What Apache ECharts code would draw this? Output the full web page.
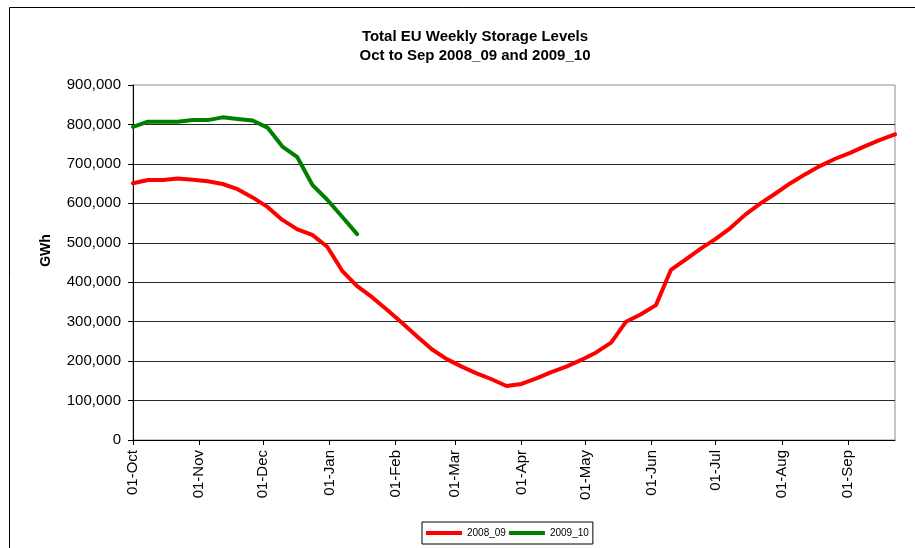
<!DOCTYPE html>
<html>
<head>
<meta charset="utf-8">
<title>Total EU Weekly Storage Levels</title>
<script src="https://cdn.jsdelivr.net/npm/echarts@6/dist/echarts.min.js"></script>
<style>
  html, body { margin: 0; padding: 0; background: #fff; }
  #chart { width: 915px; height: 548px; }
</style>
</head>
<body>
<div id="chart"></div>
<script>
// weekly dates (season Oct to Sep)
var weeks = [
    '2008-10-01', '2008-10-08', '2008-10-15', '2008-10-22', '2008-10-29',
    '2008-11-05', '2008-11-12', '2008-11-19', '2008-11-26',
    '2008-12-03', '2008-12-10', '2008-12-17', '2008-12-24', '2008-12-31',
    '2009-01-07', '2009-01-14', '2009-01-21', '2009-01-28',
    '2009-02-04', '2009-02-11', '2009-02-18', '2009-02-25',
    '2009-03-04', '2009-03-11', '2009-03-18', '2009-03-25',
    '2009-04-01', '2009-04-08', '2009-04-15', '2009-04-22', '2009-04-29',
    '2009-05-06', '2009-05-13', '2009-05-20', '2009-05-27',
    '2009-06-03', '2009-06-10', '2009-06-17', '2009-06-24',
    '2009-07-01', '2009-07-08', '2009-07-15', '2009-07-22', '2009-07-29',
    '2009-08-05', '2009-08-12', '2009-08-19', '2009-08-26',
    '2009-09-02', '2009-09-09', '2009-09-16', '2009-09-23'
];

// storage levels, GWh
var season_2008_09 = [
    651000, 659000, 659000, 663000, 660000, 656000, 649000, 636000, 615000, 591000,
    558000, 534000, 520000, 490000, 429000, 390000, 362000, 330000, 297000, 263000,
    230000, 205000, 186000, 169000, 154000, 137000, 142000, 156000, 172000, 186000,
    203000, 222000, 247000, 300000, 319000, 342000, 431000, 458000, 485000, 510000,
    538000, 572000, 600000, 625000, 651000, 674000, 695000, 713000, 728000, 745000,
    761000, 775000
];
var season_2009_10 = [
    794000, 807000, 807000, 807000, 811000, 811000, 818000, 814000, 810000, 792000,
    744000, 717000, 647000, 609000, 566000, 522000
];

var seriesNames = ['2008_09', '2009_10'];
var seriesColors = ['#ff0000', '#008000'];

// x axis ticks, first of each month
var monthTicks = [
    '2008-10-01', '2008-11-01', '2008-12-01', '2009-01-01', '2009-02-01', '2009-03-01',
    '2009-04-01', '2009-05-01', '2009-06-01', '2009-07-01', '2009-08-01', '2009-09-01'
];
var monthNames = ['Jan', 'Feb', 'Mar', 'Apr', 'May', 'Jun', 'Jul', 'Aug', 'Sep', 'Oct', 'Nov', 'Dec'];

var fontFam = '"Liberation Sans", Arial, sans-serif';

function toTime(d) {
    return +echarts.time.parse(d);
}

function toPairs(vals) {
    var out = [];
    for (var i = 0; i < vals.length; i++) {
        out.push([toTime(weeks[i]), vals[i]]);
    }
    return out;
}

function fmtThousands(v) {
    return String(v).replace(/\B(?=(\d{3})+(?!\d))/g, ',');
}

var tickValues = monthTicks.map(toTime);

var myChart = echarts.init(document.getElementById('chart'));

var option = {
    animation: false,
    backgroundColor: '#ffffff',
    title: {
        text: 'Total EU Weekly Storage Levels\nOct to Sep 2008_09 and 2009_10',
        left: 470,
        top: 22,
        textAlign: 'center',
        textStyle: {
            fontFamily: fontFam,
            fontSize: 15,
            fontWeight: 'bold',
            color: '#000',
            lineHeight: 19
        }
    },
    graphic: [{
        type: 'rect',
        silent: true,
        z: -1,
        shape: { x: 9.5, y: 7.5, width: 1000, height: 1000 },
        style: { fill: 'none', stroke: '#000', lineWidth: 1 }
    }],
    legend: {
        data: seriesNames,
        left: 422,
        top: 522,
        orient: 'horizontal',
        icon: 'rect',
        itemWidth: 36,
        itemHeight: 4,
        itemGap: 3,
        padding: [6, 4, 6, 4],
        borderColor: '#000',
        borderWidth: 1,
        textStyle: {
            fontFamily: fontFam,
            fontSize: 10,
            color: '#000'
        }
    },
    grid: {
        left: 133,
        right: 20,
        top: 85,
        bottom: 108,
        show: true,
        borderColor: '#8c8c8c',
        borderWidth: 1,
        backgroundColor: 'transparent'
    },
    xAxis: {
        type: 'value',
        min: toTime(weeks[0]),
        max: toTime(weeks[weeks.length - 1]),
        axisLine: { lineStyle: { color: '#000', width: 1 } },
        axisTick: {
            show: true,
            length: 5,
            customValues: tickValues,
            lineStyle: { color: '#000' }
        },
        axisLabel: {
            customValues: tickValues,
            rotate: 90,
            margin: 10,
            fontFamily: fontFam,
            fontSize: 15,
            color: '#000',
            formatter: function (val) {
                var d = new Date(val);
                return '01-' + monthNames[d.getMonth()];
            }
        },
        splitLine: { show: false }
    },
    yAxis: {
        type: 'value',
        min: 0,
        max: 900000,
        interval: 100000,
        name: 'GWh',
        nameLocation: 'middle',
        nameRotate: 90,
        nameGap: 80,
        nameTextStyle: {
            fontFamily: fontFam,
            fontSize: 14,
            fontWeight: 'bold',
            color: '#000',
            padding: [0, 0, 0, 24]
        },
        axisLine: { show: true, lineStyle: { color: '#000', width: 1 } },
        axisTick: { show: true, length: 5, lineStyle: { color: '#000' } },
        axisLabel: {
            margin: 12,
            fontFamily: fontFam,
            fontSize: 15,
            color: '#000',
            formatter: fmtThousands
        },
        splitLine: {
            show: true,
            showMaxLine: false,
            lineStyle: { color: '#2a2a2a', width: 1 }
        }
    },
    series: [{
        name: seriesNames[0],
        type: 'line',
        data: toPairs(season_2008_09),
        showSymbol: false,
        symbol: 'none',
        color: seriesColors[0],
        lineStyle: { color: seriesColors[0], width: 4, join: 'round', cap: 'round' }
    }, {
        name: seriesNames[1],
        type: 'line',
        data: toPairs(season_2009_10),
        showSymbol: false,
        symbol: 'none',
        color: seriesColors[1],
        lineStyle: { color: seriesColors[1], width: 4, join: 'round', cap: 'round' }
    }]
};

myChart.setOption(option);
</script>
</body>
</html>
